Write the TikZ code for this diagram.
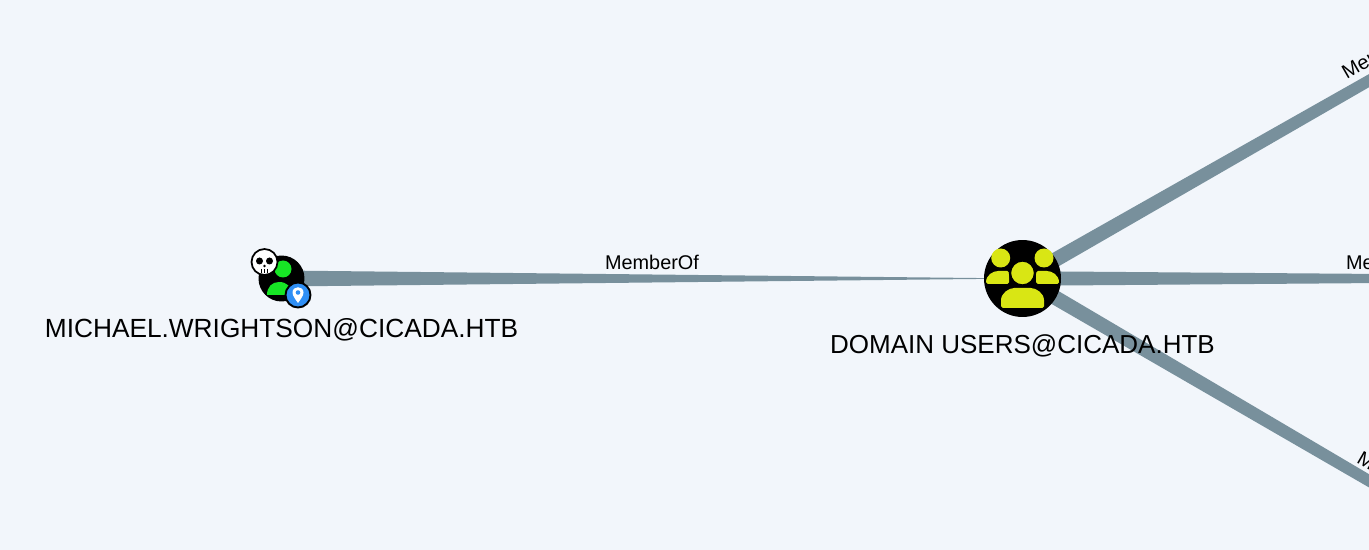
\documentclass[tikz,border=0pt]{standalone}
\usepackage{fontspec}
\setmainfont{Liberation Sans}
\usetikzlibrary{calc,backgrounds}
\definecolor{pagebg}{HTML}{F2F6FB}
\definecolor{edgegray}{HTML}{78909C}
\definecolor{groupyellow}{HTML}{D9E614}
\definecolor{usergreen}{HTML}{17E625}
\definecolor{pinblue}{HTML}{2F8FF5}
\tikzset{
    graphnode/.style={circle,fill=black,inner sep=0pt},
    nodelabel/.style={inner sep=0pt,font=\fontsize{14.8}{18}\selectfont},
    edgelabel/.style={inner sep=0pt,font=\fontsize{11.3}{13}\selectfont},
}
\begin{document}
\begin{tikzpicture}[x=0.02cm,y=-0.02cm]
    \useasboundingbox (0,0) rectangle (1369,550);
    \node[graphnode,minimum size=0.92cm] (mw) at (281.5,278.5) {};
    \node[graphnode,minimum size=1.54cm] (du) at (1022.5,278.5) {};
    \coordinate (upend) at (2498,-564);
    \coordinate (midend) at (1964,278.5);
    \coordinate (lowend) at (2498,1140);
    \begin{scope}[on background layer]
        \fill[pagebg] (0,0) rectangle (1369,550);
        \fill[edgegray] ($(mw.center)+(0,-8)$) -- (du.center) -- ($(mw.center)+(0,8)$) -- cycle;
        \foreach \nx/\ny/\tip in {3.7/6.5/upend,0/7.3/midend,-3.7/6.5/lowend}{
            \fill[edgegray] ($(du.center)+(-\nx,-\ny)$) -- (\tip) -- ($(du.center)+(\nx,\ny)$) -- cycle;
        }
    \end{scope}
    % user icon
    \fill[usergreen] (283,269) circle (8.5);
    \fill[usergreen] (267,295) .. controls (267,287) and (272,282) .. (279,282) .. controls (287,282) and (292,287) .. (292,295) -- cycle;
    % skull
    \node[circle,fill=white,draw=black,line width=1pt,minimum size=0.52cm,inner sep=0pt] (mwskull) at (264.5,262) {};
    \fill[black] (259.5,261) circle (3.5) (269.5,261) circle (3.5);
    \fill[black] (264.5,266) circle (1.3);
    \draw[black,line width=0.5pt] (261.5,269) -- (261.5,273) (264.5,269) -- (264.5,273) (267.5,269) -- (267.5,273);
    % pin
    \node[circle,fill=pinblue,draw=black,line width=1.1pt,minimum size=0.5cm,inner sep=0pt] (mwpin) at (298,295) {};
    \fill[white] (292.5,292.5) .. controls (292.5,285.5) and (303.5,285.5) .. (303.5,292.5) .. controls (303.5,296) and (300,300) .. (298,303) .. controls (296,300) and (292.5,296) .. (292.5,292.5) -- cycle;
    \fill[pinblue] (298,292.5) circle (2.3);
    % group icon
    \foreach \sx/\a/\b/\c in {1/986/993/1009,-1/1059/1052/1036}{
        \fill[groupyellow,rounded corners=1pt] (\a,284) .. controls (\a,275) and (\b,271) .. (\b+7*\sx,271) -- (\c,271) -- (\c,284) -- cycle;
    }
    \fill[groupyellow] (1000.7,258) circle (9.5) (1044,258) circle (9.5);
    \fill[groupyellow,draw=black,line width=1.3pt] (1022.5,273) circle (12.5);
    \fill[groupyellow,rounded corners=1pt] (1001,308) -- (1001,302) .. controls (1001,293) and (1009,288) .. (1016,288) -- (1029,288) .. controls (1036,288) and (1044,293) .. (1044,302) -- (1044,308) -- cycle;
    % labels
    \node[nodelabel,font=\fontsize{14.95}{18}\selectfont] (mwlabel) at (281.5,330) {MICHAEL.WRIGHTSON@CICADA.HTB};
    \node[nodelabel] (dulabel) at (1022.5,346) {DOMAIN USERS@CICADA.HTB};
    \node[edgelabel] (mwdu) at (652,262) {MemberOf};
    \node[edgelabel,rotate=30] (duup) at (1384,50) {MemberOf};
    \node[edgelabel] (dumid) at (1393,262) {MemberOf};
    \node[edgelabel,rotate=-30] (dulow) at (1400,480) {MemberOf};
\end{tikzpicture}
\end{document}
